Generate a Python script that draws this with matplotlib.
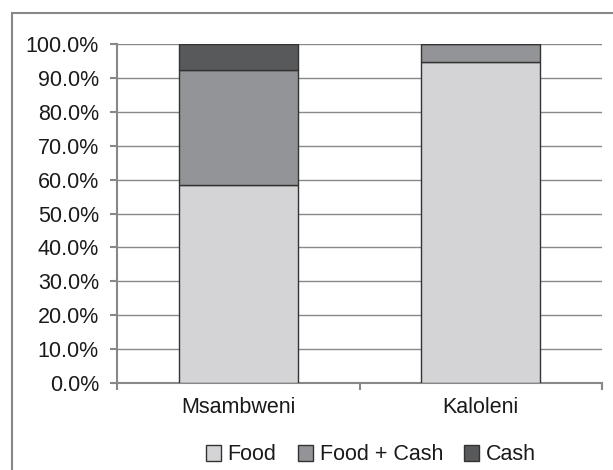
import matplotlib.pyplot as plt
from matplotlib.patches import Rectangle
from matplotlib.ticker import PercentFormatter

plt.rcParams['font.family'] = ['Liberation Sans', 'DejaVu Sans']

districts = ['Msambweni', 'Kaloleni']
food = [58.4, 94.8]
food_cash = [33.9, 5.2]
cash = [7.7, 0.0]

series = ['Food', 'Food + Cash', 'Cash']
colors = ['#d4d4d6', '#939497', '#58595b']

fig = plt.figure(figsize=(6.13, 4.70), dpi=100)
ax = fig.add_axes([117 / 613, 1 - 383 / 470, (602 - 117) / 613, (383 - 44) / 470])

x = range(len(districts))
bottom = [0.0] * len(districts)
for name, vals, c in zip(series, [food, food_cash, cash], colors):
    ax.bar(x, vals, 0.49, bottom=bottom, color=c, edgecolor='#333333',
           linewidth=1.0, label=name, zorder=3)
    bottom = [b + v for b, v in zip(bottom, vals)]

ax.set_ylim(0, 100)
ax.set_xlim(-0.5, 1.5)
ax.set_yticks(range(0, 101, 10))
ax.yaxis.set_major_formatter(PercentFormatter(decimals=1))
ax.set_xticks(list(x))
ax.set_xticklabels(districts)
ax.set_xticks([-0.5, 0.5, 1.5], minor=True)
ax.tick_params(axis='x', which='major', length=0, pad=10, labelsize=15.5, labelcolor='#1a1a1a')
ax.tick_params(axis='x', which='minor', length=5, width=1.5, color='#888888', direction='out')
ax.tick_params(axis='y', length=5, width=1.5, color='#888888', labelsize=15.5, pad=8,
               labelcolor='#1a1a1a')
ax.grid(axis='y', color='#888888', linewidth=1.0, zorder=0)
for s in ['top', 'right']:
    ax.spines[s].set_visible(False)
for s in ['left', 'bottom']:
    ax.spines[s].set_color('#888888')
    ax.spines[s].set_linewidth(1.5)

leg = fig.legend(loc='center', bbox_to_anchor=(371 / 613, 1 - 455 / 470), ncol=3,
                 frameon=False, fontsize=15.5, handlelength=0.7, handleheight=0.7,
                 handletextpad=0.3, columnspacing=1.0)
for t in leg.get_texts():
    t.set_color('#1a1a1a')

fig.patches.append(Rectangle((12 / 613, -0.1), 1, 1.1 - 13 / 470, transform=fig.transFigure,
                             fill=False, edgecolor='#888888', linewidth=1.5))

fig.savefig('out.png', dpi=100)
